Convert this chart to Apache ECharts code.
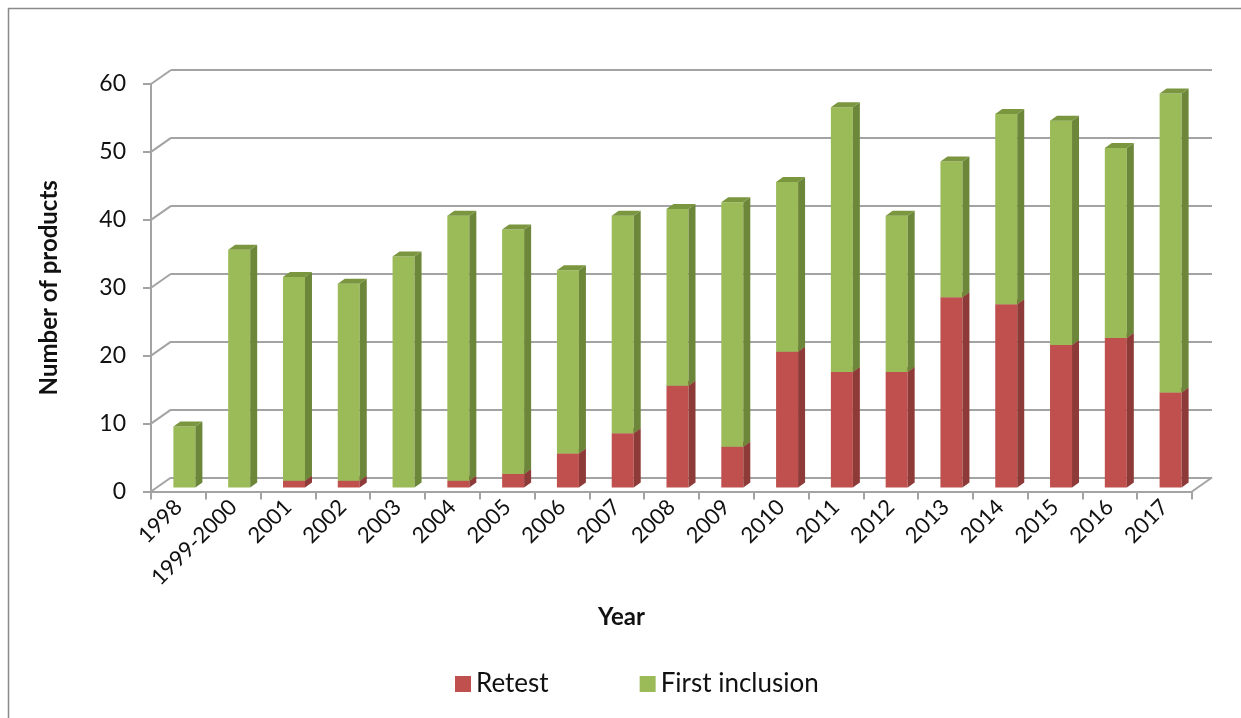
<!DOCTYPE html>
<html>
<head>
<meta charset="utf-8">
<script src="https://cdn.jsdelivr.net/npm/echarts@6/dist/echarts.min.js"></script>
<style>
  html, body { margin: 0; padding: 0; background: #fff; }
  #chart { width: 1241px; height: 718px; }
</style>
</head>
<body>
<div id="chart"></div>
<script>
// Products per year, split into retested and first-time inclusions
const years = ['1998', '1999-2000', '2001', '2002', '2003', '2004', '2005', '2006', '2007',
  '2008', '2009', '2010', '2011', '2012', '2013', '2014', '2015', '2016', '2017'];
const retest = [0, 0, 1, 1, 0, 1, 2, 5, 8, 15, 6, 20, 17, 17, 28, 27, 21, 22, 14];
const firstInclusion = [9, 35, 30, 29, 34, 39, 36, 27, 32, 26, 36, 25, 39, 23, 20, 28, 33, 28, 44];
const yTicks = [0, 10, 20, 30, 40, 50, 60];

const FONT = 'Lato, "Open Sans", sans-serif';
const GRID_LINE = '#a3a3a3';

// Stacked segments: [category, base, top]
const retestSegs = retest.map((v, i) => [i, 0, v]);
const firstSegs = firstInclusion.map((v, i) => [i, retest[i], retest[i] + v]);

// Pseudo-3D column: front face, right side face and top face
function columnRenderer(front, side, top) {
  return function (params, api) {
    const idx = api.value(0);
    const b = api.value(1);
    const t = api.value(2);
    if (t - b <= 0) return null;
    const p0 = api.coord([idx, b]);
    const p1 = api.coord([idx, t]);
    const shiftX = 6, shiftY = -4;   // columns sit slightly behind the front plane
    const half = 11, dx = 7, dy = -5; // face half-width and depth
    const cx = p0[0] + shiftX;
    const y0 = p0[1] + shiftY;
    const y1 = p1[1] + shiftY;
    return {
      type: 'group',
      children: [
        { type: 'rect', shape: { x: cx - half, y: y1, width: half * 2, height: y0 - y1 },
          style: { fill: front } },
        { type: 'polygon', shape: { points: [[cx + half, y1], [cx + half + dx, y1 + dy],
            [cx + half + dx, y0 + dy], [cx + half, y0]] }, style: { fill: side } },
        { type: 'polygon', shape: { points: [[cx - half, y1], [cx - half + dx, y1 + dy],
            [cx + half + dx, y1 + dy], [cx + half, y1]] }, style: { fill: top } }
      ]
    };
  };
}

// Depth connectors from the front axis to the back wall gridlines
function depthRenderer(params, api) {
  const v = api.value(0);
  const atRight = api.value(1) === 1;
  const y = api.coord([0, v])[1];
  const cs = params.coordSys;
  const x = atRight ? cs.x + cs.width : cs.x;
  return {
    type: 'line',
    shape: { x1: x, y1: y, x2: x + 20, y2: y - 14 },
    style: { stroke: GRID_LINE, lineWidth: 2 }
  };
}
const depthData = yTicks.map(v => [v, 0]).concat([[0, 1]]);

const chart = echarts.init(document.getElementById('chart'));
chart.setOption({
  backgroundColor: '#ffffff',
  animation: false,
  textStyle: { fontFamily: FONT },
  graphic: [{
    type: 'rect', silent: true, z: -10,
    shape: { x: 8.5, y: 8.5, width: 1400, height: 900 },
    style: { fill: 'none', stroke: '#8a8a8a', lineWidth: 1.5 }
  }],
  legend: {
    left: 450, top: 666,
    itemWidth: 16, itemHeight: 16, itemGap: 91,
    icon: 'rect',
    textStyle: { fontFamily: FONT, fontSize: 26, color: '#111' },
    data: [
      { name: 'Retest', itemStyle: { color: '#C0504D' } },
      { name: 'First inclusion', itemStyle: { color: '#9BBB59' } }
    ]
  },
  grid: [
    { left: 151, right: 49, top: 84, bottom: 226.5 },   // front plane
    { left: 171, right: 29, top: 70, bottom: 240.5 }    // back wall
  ],
  xAxis: [
    {
      type: 'category', gridIndex: 0, data: years,
      axisLine: { show: true, lineStyle: { color: GRID_LINE, width: 2 } },
      axisTick: { show: true, length: 8, lineStyle: { color: GRID_LINE, width: 2 } },
      axisLabel: { rotate: 45, fontSize: 22, color: '#111', margin: 12, fontFamily: FONT, interval: 0 },
      name: 'Year', nameLocation: 'middle', nameGap: 114,
      nameTextStyle: { fontSize: 24, fontWeight: 'bold', color: '#111', fontFamily: FONT,
        padding: [0, 100, 0, 0] }
    },
    { type: 'category', gridIndex: 1, data: years, show: false }
  ],
  yAxis: [
    {
      type: 'value', gridIndex: 0, min: 0, max: 60, interval: 10,
      axisLine: { show: true, lineStyle: { color: GRID_LINE, width: 2 } },
      axisTick: { show: true, length: 8, lineStyle: { color: GRID_LINE, width: 2 } },
      splitLine: { show: false },
      axisLabel: { fontSize: 23, color: '#111', margin: 25, fontFamily: FONT },
      name: 'Number of products', nameLocation: 'middle', nameGap: 90, nameRotate: 90,
      nameTextStyle: { fontSize: 24, fontWeight: 'bold', color: '#111', fontFamily: FONT }
    },
    {
      type: 'value', gridIndex: 1, min: 0, max: 60, interval: 10,
      axisLine: { show: false }, axisTick: { show: false }, axisLabel: { show: false },
      splitLine: { show: true, lineStyle: { color: GRID_LINE, width: 2 } }
    }
  ],
  series: [
    {
      type: 'custom', name: 'depth', xAxisIndex: 0, yAxisIndex: 0,
      renderItem: depthRenderer, data: depthData, silent: true, z: 1,
      encode: { y: 0 }
    },
    {
      type: 'custom', name: 'Retest', xAxisIndex: 0, yAxisIndex: 0,
      renderItem: columnRenderer('#C0504D', '#8E3A38', '#A2423F'),
      itemStyle: { color: '#C0504D' },
      data: retestSegs, encode: { x: 0, y: [1, 2] }, z: 3
    },
    {
      type: 'custom', name: 'First inclusion', xAxisIndex: 0, yAxisIndex: 0,
      renderItem: columnRenderer('#9BBB59', '#6D873A', '#7A963F'),
      itemStyle: { color: '#9BBB59' },
      data: firstSegs, encode: { x: 0, y: [1, 2] }, z: 4
    }
  ]
});
</script>
</body>
</html>
